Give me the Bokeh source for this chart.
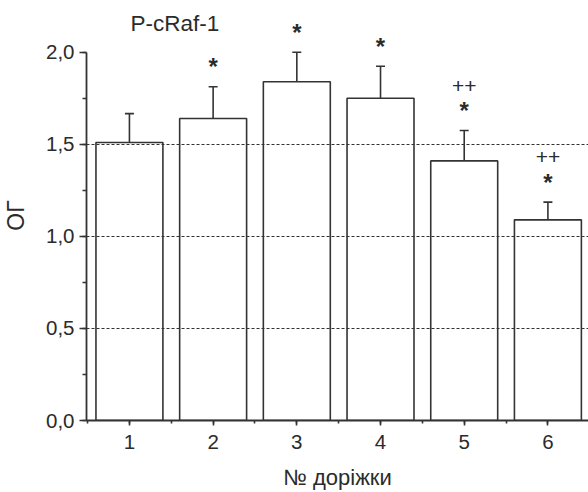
from bokeh.plotting import figure
from bokeh.models import (ColumnDataSource, FixedTicker, SingleIntervalTicker,
                          CustomJSTickFormatter, Whisker, TeeHead, Label, Range1d)
from bokeh.core.properties import value
from bokeh.embed import file_html
from bokeh.resources import INLINE

# ---- data ----
lanes = [1, 2, 3, 4, 5, 6]
og_mean = [1.51, 1.64, 1.84, 1.75, 1.41, 1.09]
og_err_top = [1.667, 1.813, 2.0, 1.924, 1.575, 1.186]
star_marks = ["", "*", "*", "*", "*", "*"]
plus_marks = ["", "", "", "", "++", "++"]
grid_levels = [0.5, 1.0, 1.5]
title_text = "P-cRaf-1"
x_label = "№ доріжки"
y_label = "ОГ"

FONT = "Liberation Sans"
INK = "#2b2b2b"
LINE = "#333333"

src = ColumnDataSource(dict(x=lanes, top=og_mean, upper=og_err_top,
                            star=star_marks, plus=plus_marks))

p = figure(width=588, height=492, output_backend="svg", toolbar_location=None,
           x_range=Range1d(0.487, 6.485), y_range=Range1d(0, 2.227),
           min_border_left=85, min_border_right=0, min_border_top=10,
           min_border_bottom=70)
p.outline_line_color = None
p.background_fill_color = "white"
p.border_fill_color = "white"

# bars
p.vbar(x="x", top="top", width=0.8, bottom=0, source=src,
       fill_color=None, line_color=LINE, line_width=1.6)

# upper error bars
w = Whisker(base="x", lower="top", upper="upper", source=src,
            line_color=LINE, line_width=1.6,
            upper_head=TeeHead(size=9, line_color=LINE, line_width=1.6),
            lower_head=None)
p.add_layout(w)

# significance marks
p.text(x="x", y="upper", text="star", source=src, text_font=value(FONT),
       text_font_size="24px", text_font_style="bold", text_color=INK,
       text_align="center", text_baseline="alphabetic", y_offset=-20)
p.text(x="x", y="upper", text="plus", source=src, text_font=value(FONT),
       text_font_size="21px", text_color=INK, text_align="center",
       text_baseline="alphabetic", y_offset=-45)

# title inside the plot
p.add_layout(Label(x=1.542, y=2.155, text=title_text, text_font=FONT,
                   text_font_size="22.5px", text_color=INK,
                   text_align="center", text_baseline="middle"))

# grid
p.xgrid.visible = False
p.ygrid.ticker = FixedTicker(ticks=grid_levels)
p.ygrid.grid_line_color = LINE
p.ygrid.grid_line_dash = "3 2"
p.ygrid.grid_line_width = 1.2

# axes
fmt = CustomJSTickFormatter(code="return tick.toFixed(1).replace('.', ',');")
yax = p.yaxis[0]
yax.ticker = SingleIntervalTicker(interval=0.5, num_minor_ticks=2)
yax.formatter = fmt
yax.bounds = (0, 2)
yax.axis_label = y_label
xax = p.xaxis[0]
xax.ticker = SingleIntervalTicker(interval=1, num_minor_ticks=2)
xax.axis_label = x_label

for ax in (xax, yax):
    ax.axis_line_color = LINE
    ax.axis_line_width = 1.8
    ax.major_tick_line_color = LINE
    ax.minor_tick_line_color = LINE
    ax.major_tick_line_width = 1.6
    ax.minor_tick_line_width = 1.6
    ax.major_tick_in = 0
    ax.minor_tick_in = 0
    ax.major_label_text_font = FONT
    ax.major_label_text_font_size = "20.5px"
    ax.major_label_text_color = INK
    ax.axis_label_text_font = FONT
    ax.axis_label_text_font_style = "normal"
    ax.axis_label_text_color = INK

yax.axis_label_text_font_size = "23px"
yax.major_tick_out = 7
yax.minor_tick_out = 4
yax.major_label_standoff = 5
yax.axis_label_standoff = 14
xax.axis_label_text_font_size = "22px"
xax.major_tick_out = 5
xax.minor_tick_out = 3
xax.major_label_standoff = 9
xax.axis_label_standoff = 13

open("out.html", "w").write(file_html(p, INLINE))
